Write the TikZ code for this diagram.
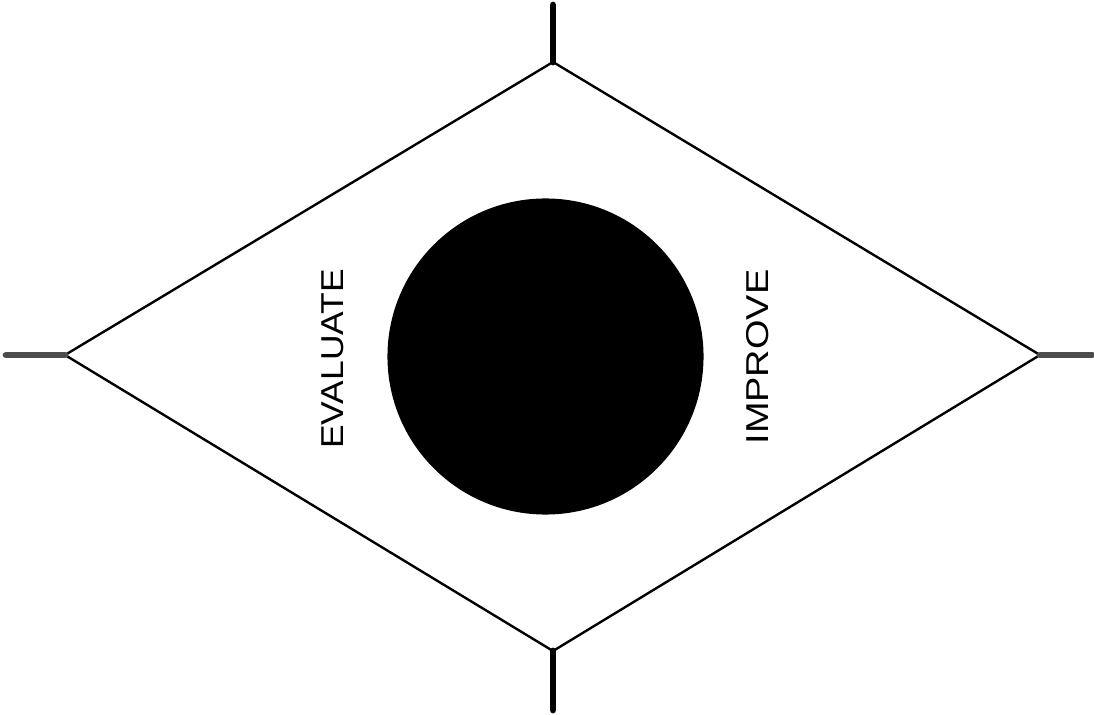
\documentclass[tikz,border=0pt]{standalone}
\usepackage{fontspec}
\setmainfont{Liberation Sans}
\usetikzlibrary{positioning}

\begin{document}
\begin{tikzpicture}[x=0.025cm, y=-0.025cm,
  every node/.style={font=\fontsize{22.5}{27}\selectfont},
  edge/.style={draw, line width=1.7pt, line join=miter},
  stub/.style={draw, line width=4.8pt, line cap=round},
  sidestub/.style={stub, black!70},
  core/.style={circle, fill=black, inner sep=0pt, minimum size=7.9cm},
  lab/.style={rotate=90, xscale=1.12, inner sep=0pt}]

\useasboundingbox (0,0) rectangle (1094,715);

% corners of the diamond
\coordinate (top) at (553,62);
\coordinate (bottom) at (553,651);
\coordinate (left) at (65,355);
\coordinate (right) at (1040,355);

% free ends of the stubs
\coordinate (topend) at (553,5);
\coordinate (bottomend) at (553,710);
\coordinate (leftend) at (6,355);
\coordinate (rightend) at (1092,355);

\node[core] (disc) at (545.5,356.5) {};
\node[lab] (eval) at (333,359) {EVALUATE};
\node[lab, xscale=1.07] (impr) at (758,357) {IMPROVE};

\draw[edge] (top) -- (right) -- (bottom) -- (left) -- cycle;
\draw[stub] (top) -- (topend);
\draw[stub] (bottom) -- (bottomend);
\draw[sidestub] (left) -- (leftend);
\draw[sidestub] (right) -- (rightend);
\end{tikzpicture}
\end{document}
